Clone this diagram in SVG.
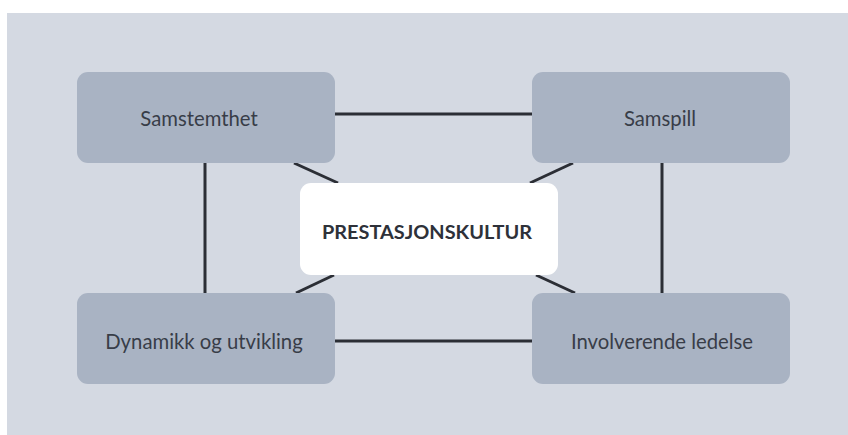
<svg xmlns="http://www.w3.org/2000/svg" width="848" height="435" viewBox="0 0 848 435">
<style>
.box{fill:#a9b3c3}
.center{fill:#ffffff}
.lbl{font-family:Lato,"Open Sans",sans-serif;font-size:20.3px;fill:#383d48;text-anchor:middle;dominant-baseline:central}
.bold{font-weight:bold;font-size:19.9px;fill:#2e3139}
.ln{stroke:#2b2e35;stroke-width:3;fill:none;stroke-linecap:butt}
</style>
<rect x="0" y="0" width="848" height="435" fill="#ffffff"/>
<rect x="7" y="13" width="841" height="422" fill="#d4d9e2"/>
<g id="connectors">
<line class="ln" x1="335" y1="114" x2="532" y2="114"/>
<line class="ln" x1="335" y1="341" x2="532" y2="341"/>
<line class="ln" x1="205" y1="163" x2="205" y2="293" stroke-width="2.5"/>
<line class="ln" x1="662" y1="163" x2="662" y2="293" stroke-width="2.5"/>
<line class="ln" x1="294" y1="163" x2="338" y2="183"/>
<line class="ln" x1="573" y1="163" x2="530" y2="183"/>
<line class="ln" x1="296" y1="293" x2="334" y2="275"/>
<line class="ln" x1="536" y1="275" x2="575" y2="293"/>
</g>
<g id="samstemthet">
<rect class="box" x="77" y="72" width="258" height="91" rx="11"/>
<text class="lbl" x="199" y="118">Samstemthet</text>
</g>
<g id="samspill">
<rect class="box" x="532" y="72" width="258" height="91" rx="11"/>
<text class="lbl" x="660" y="118">Samspill</text>
</g>
<g id="dynamikk">
<rect class="box" x="77" y="293" width="258" height="91" rx="11"/>
<text class="lbl" x="204" y="341">Dynamikk og utvikling</text>
</g>
<g id="involverende">
<rect class="box" x="532" y="293" width="258" height="91" rx="11"/>
<text class="lbl" x="662" y="341">Involverende ledelse</text>
</g>
<g id="prestasjonskultur">
<rect class="center" x="300" y="183" width="258" height="92" rx="11"/>
<text class="lbl bold" x="427" y="231">PRESTASJONSKULTUR</text>
</g>
</svg>
